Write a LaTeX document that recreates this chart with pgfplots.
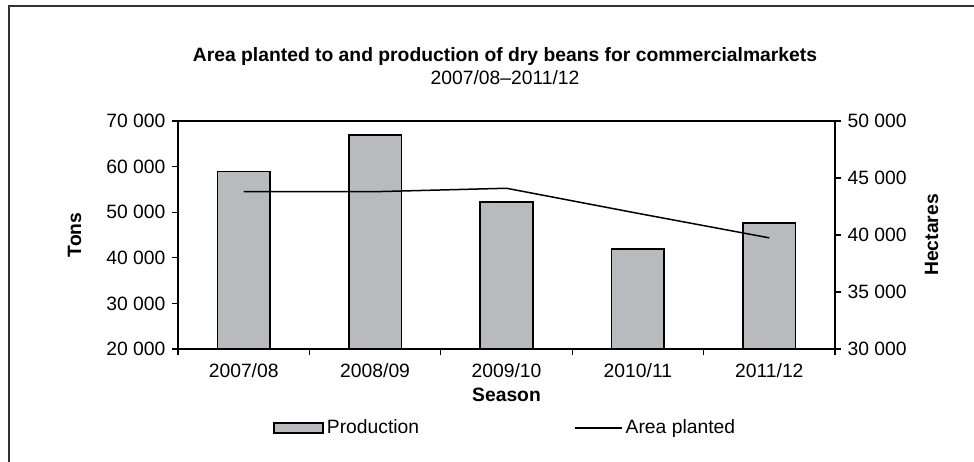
\documentclass[border=0pt]{standalone}
\usepackage{fontspec}
\setmainfont{Liberation Sans}
\usepackage{pgfplots}
\pgfplotsset{compat=1.18}

\definecolor{barfill}{RGB}{185,186,190}
\definecolor{framegray}{RGB}{50,50,50}

\pgfplotsset{
  common/.style={
    scale only axis,
    width=657bp, height=228bp,
    at={(178bp,-349bp)}, anchor=south west,
    axis line style={line width=1.5bp},
    tick style={line width=1.2bp, black},
    major tick length=6bp,
    tick align=outside,
    scaled y ticks=false,
    /pgf/number format/.cd, 1000 sep={\ }, assume math mode=true,
  },
}

\begin{document}
\fontsize{19.3bp}{23bp}\selectfont
\begin{tikzpicture}
\useasboundingbox (0,0) rectangle (974bp,-462bp);
\draw[framegray, line width=2bp] (9bp,-462bp) -- (9bp,-6bp) -- (974bp,-6bp);

\node[font=\bfseries] at (505bp,-57bp) {Area planted to and production of dry beans for commercialmarkets};
\node at (505bp,-78bp) {2007/08--2011/12};

\begin{axis}[
  common,
  xmin=0, xmax=5,
  ymin=20000, ymax=70000,
  ytick distance=10000,
  ytick pos=left,
  xtick={0,1,2,3,4,5},
  xticklabels={2007/08,2008/09,2009/10,2010/11,2011/12},
  x tick label as interval,
  xtick pos=bottom,
  xticklabel style={yshift=-2bp},
  xlabel={\bfseries Season},
  ylabel={\bfseries Tons},
  xlabel style={yshift=3bp},
  ylabel style={yshift=12bp},
]
\addplot[ybar, bar width=0.4, fill=barfill, draw=black, line width=1.7bp] coordinates {
(0.5,58900) (1.5,66900) (2.5,52200) (3.5,42000) (4.5,47700)
};
\end{axis}

\begin{axis}[
  common,
  xmin=0, xmax=5,
  ymin=30000, ymax=50000,
  ytick distance=5000,
  axis y line*=right,
  axis x line=none,
  ylabel={\bfseries Hectares},
  ylabel style={yshift=-5bp},
  legend columns=2,
  legend style={draw=none, fill=none, at={(0.1446,-0.346)}, anchor=west,
    inner sep=0pt,
    /tikz/every even column/.append style={column sep=152bp},
    nodes={inner sep=3bp}},
]
\addlegendimage{legend image code/.code={\draw[fill=barfill, draw=black, line width=1.7bp] (0bp,-5bp) rectangle (49bp,5bp);}}
\addlegendentry{Production}
\addplot[black, line width=1.5bp, legend image code/.code={\draw[black, line width=1.5bp] (0bp,0bp) -- (47bp,0bp);}] coordinates {
(0.5,43800) (1.5,43800) (2.5,44100) (3.5,41900) (4.5,39750)
};
\addlegendentry{Area planted}
\end{axis}
\end{tikzpicture}
\end{document}
